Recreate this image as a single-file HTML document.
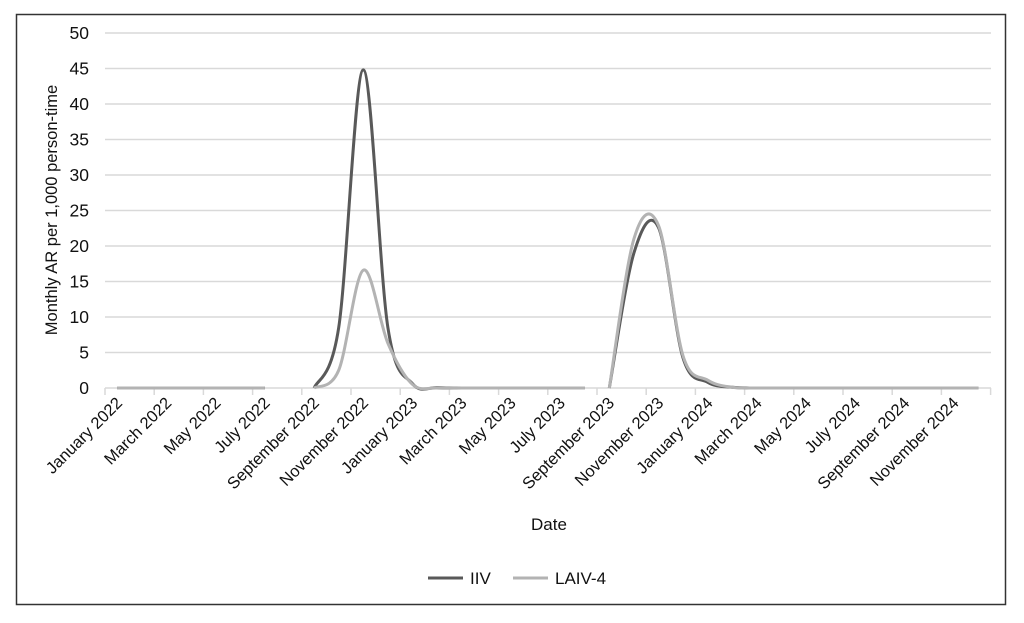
<!DOCTYPE html>
<html><head><meta charset="utf-8"><style>
body{margin:0;background:#fff;width:1024px;height:618px;overflow:hidden}
text{font-family:"Liberation Sans",Arial,sans-serif;fill:#111}
</style></head><body>
<svg id="s" width="1024" height="618" xmlns="http://www.w3.org/2000/svg">
<rect x="16.5" y="14.5" width="989" height="590" fill="#fff" stroke="#333" stroke-width="1.5"/>
<g id="grid" stroke="#d9d9d9" stroke-width="1.5"></g>
<g id="ylab" font-size="17.5" text-anchor="end"></g>
<g id="xlab" font-size="16.5" text-anchor="end"></g>
<text x="549" y="530" font-size="17" text-anchor="middle">Date</text>
<text transform="translate(57,210) rotate(-90)" font-size="16.5" text-anchor="middle">Monthly AR per 1,000 person-time</text>
<line x1="428" y1="578" x2="463" y2="578" stroke="#595959" stroke-width="3"/>
<text x="470" y="584" font-size="17">IIV</text>
<line x1="513" y1="578" x2="548" y2="578" stroke="#b3b3b3" stroke-width="3"/>
<text x="555" y="584" font-size="17">LAIV-4</text>
<g id="lines" fill="none" stroke-width="3" stroke-linejoin="round"></g>
</svg>
<script>
var NS="http://www.w3.org/2000/svg";
function el(p,t,a,txt){var e=document.createElementNS(NS,t);for(var k in a)e.setAttribute(k,a[k]);if(txt)e.textContent=txt;document.getElementById(p).appendChild(e);}
var y0=388,sy=7.1,x0=105,dx=24.6;
for(var v=0;v<=50;v+=5){var y=y0-v*sy;el('grid','line',{x1:105,x2:991,y1:y,y2:y});el('ylab','text',{x:89,y:y+6},String(v));}
for(var k=0;k<=18;k++){var x=x0+49.2*k;el('grid','line',{x1:x,x2:x,y1:388,y2:395});}
var names=["January","March","May","July","September","November"];
for(var k=0;k<18;k++){var x=x0+49.2*k+12.3+6;var t=names[k%6]+" "+(2022+Math.floor(k/6));
el('xlab','text',{x:x,y:404,transform:"rotate(-45 "+x+" 404)"},t);}
function px(i){return x0+12.3+dx*i;}
function path(segs,col){segs.forEach(function(s){var st=s[0],d=s[1];var P=d.map(function(v,j){return [px(st+j),y0-v*sy]});
var p="M"+P[0][0]+","+P[0][1];for(var j=0;j<P.length-1;j++){var a=P[j-1]||P[j],b=P[j],c=P[j+1],e=P[j+2]||c;
var c1=[b[0]+(c[0]-a[0])/6,b[1]+(c[1]-a[1])/6],c2=[c[0]-(e[0]-b[0])/6,c[1]-(e[1]-b[1])/6];
p+="C"+c1+" "+c2+" "+c;}el('lines','path',{d:p,stroke:col});});}
var z=function(n){return Array(n).fill(0)};
path([[0,z(7)],[8,[0,8.5,44.8,8.5,0.6,0.05,0,0,0,0,0,0]],[20,[0,19,22.6,4.2,0.8,0.1,0].concat(z(9))]],"#595959");
path([[0,z(7)],[8,[0,2.5,16.6,6.3,0.5,0,0,0,0,0,0,0]],[20,[0,21,22.9,4.5,1.1,0.1,0].concat(z(9))]],"#b3b3b3");
</script>
</body></html>
